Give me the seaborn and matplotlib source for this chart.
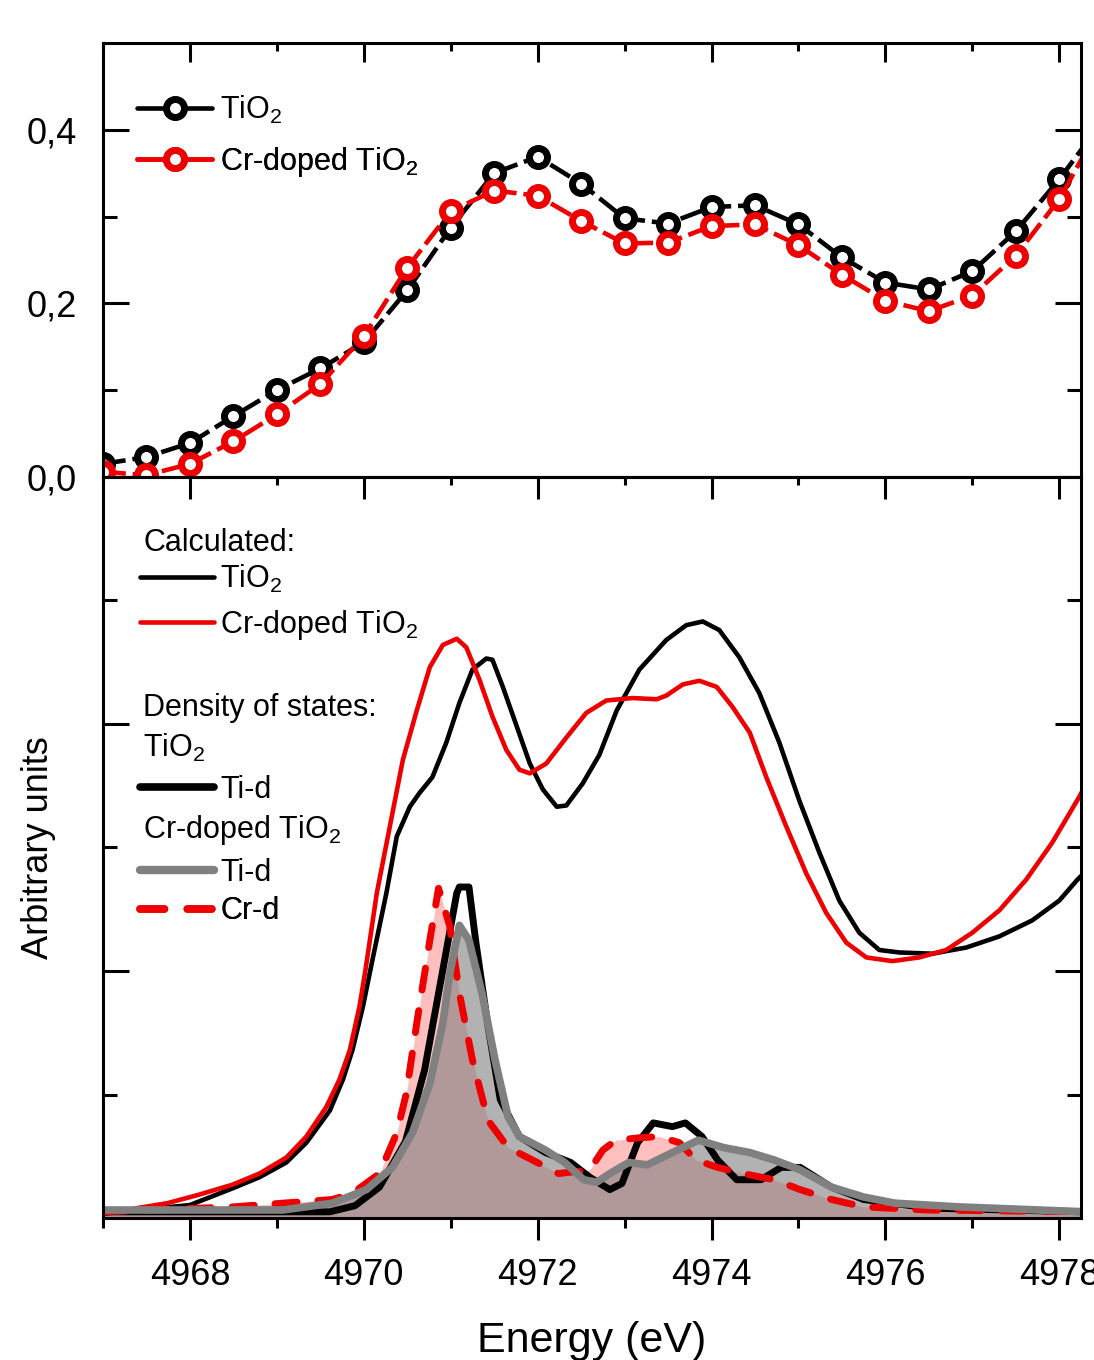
import matplotlib
matplotlib.use('Agg')
import matplotlib.pyplot as plt
import seaborn as sns
from matplotlib.lines import Line2D

# --- top panel: experimental XANES, points every 0.5 eV ---
energy_exp = [4967.0, 4967.5, 4968.0, 4968.5, 4969.0, 4969.5, 4970.0, 4970.5,
              4971.0, 4971.5, 4972.0, 4972.5, 4973.0, 4973.5, 4974.0, 4974.5,
              4975.0, 4975.5, 4976.0, 4976.5, 4977.0, 4977.5, 4978.0, 4978.5]
tio2_exp = [0.015, 0.023, 0.039, 0.070, 0.100, 0.125, 0.155, 0.215,
            0.287, 0.350, 0.369, 0.338, 0.298, 0.292, 0.311, 0.313,
            0.291, 0.253, 0.224, 0.216, 0.237, 0.283, 0.343, 0.41]
cr_exp = [0.006, 0.002, 0.015, 0.041, 0.072, 0.107, 0.162, 0.241,
          0.306, 0.330, 0.324, 0.295, 0.269, 0.270, 0.289, 0.291,
          0.267, 0.233, 0.203, 0.191, 0.209, 0.255, 0.320, 0.41]

# --- bottom panel: calculated spectra ---
calc_tio2_e = [4967.00, 4967.43, 4968.00, 4968.49, 4968.80, 4969.11, 4969.34, 4969.61,
               4969.76, 4969.87, 4969.99, 4970.10, 4970.26, 4970.38, 4970.53, 4970.64,
               4970.79, 4970.95, 4971.10, 4971.25, 4971.41, 4971.48, 4971.60, 4971.76,
               4971.91, 4972.06, 4972.22, 4972.33, 4972.52, 4972.71, 4972.91, 4973.17,
               4973.48, 4973.71, 4973.90, 4974.09, 4974.32, 4974.55, 4974.78, 4975.01,
               4975.24, 4975.47, 4975.70, 4975.93, 4976.16, 4976.54, 4976.93, 4977.31,
               4977.69, 4978.00, 4978.21, 4978.34]
calc_tio2 = [0.04, 0.065, 0.105, 0.24, 0.33, 0.45, 0.61, 0.87,
             1.12, 1.36, 1.71, 2.09, 2.63, 3.09, 3.33, 3.44,
             3.57, 3.85, 4.17, 4.44, 4.53, 4.52, 4.30, 3.98,
             3.68, 3.47, 3.33, 3.34, 3.52, 3.75, 4.11, 4.44,
             4.68, 4.80, 4.83, 4.76, 4.54, 4.25, 3.85, 3.38,
             2.96, 2.57, 2.31, 2.17, 2.15, 2.14, 2.19, 2.28,
             2.41, 2.57, 2.74, 2.83]

calc_cr_e = [4967.00, 4967.39, 4967.74, 4968.11, 4968.49, 4968.80, 4969.11, 4969.34,
             4969.57, 4969.72, 4969.84, 4969.95, 4970.02, 4970.15, 4970.30, 4970.45,
             4970.61, 4970.76, 4970.91, 4971.07, 4971.18, 4971.33, 4971.48, 4971.64,
             4971.79, 4971.91, 4972.10, 4972.33, 4972.56, 4972.79, 4973.09, 4973.37,
             4973.48, 4973.67, 4973.86, 4974.06, 4974.24, 4974.44, 4974.63, 4974.86,
             4975.09, 4975.32, 4975.55, 4975.78, 4976.08, 4976.39, 4976.70, 4977.00,
             4977.31, 4977.62, 4977.92, 4978.23, 4978.40]
calc_cr = [0.03, 0.08, 0.12, 0.19, 0.27, 0.36, 0.49, 0.66,
           0.90, 1.12, 1.36, 1.71, 2.01, 2.63, 3.17, 3.71,
           4.11, 4.46, 4.64, 4.69, 4.62, 4.36, 4.06, 3.79,
           3.63, 3.60, 3.68, 3.89, 4.09, 4.19, 4.21, 4.20,
           4.23, 4.32, 4.35, 4.30, 4.14, 3.93, 3.57, 3.17,
           2.79, 2.47, 2.23, 2.11, 2.08, 2.11, 2.17, 2.31,
           2.49, 2.74, 3.04, 3.41, 3.63]

# --- density of states ---
dos_tio2_e = [4967.00, 4969.61, 4969.90, 4970.18, 4970.48, 4970.70, 4970.92, 4971.07,
              4971.10, 4971.21, 4971.29, 4971.43, 4971.57, 4971.79, 4972.09, 4972.38,
              4972.60, 4972.83, 4972.97, 4973.15, 4973.33, 4973.55, 4973.70, 4973.89,
              4974.07, 4974.29, 4974.57, 4974.80, 4975.02, 4975.38, 4975.75, 4976.51,
              4978.31]
dos_tio2_ti = [0.05, 0.05, 0.10, 0.25, 0.62, 1.20, 2.05, 2.63,
               2.68, 2.68, 2.23, 1.55, 0.96, 0.66, 0.53, 0.45,
               0.33, 0.23, 0.28, 0.61, 0.77, 0.74, 0.77, 0.66,
               0.47, 0.31, 0.31, 0.41, 0.41, 0.25, 0.15, 0.08,
               0.05]

dos_cr_ti_e = [4967.00, 4969.07, 4969.64, 4970.03, 4970.33, 4970.56, 4970.76, 4970.91,
               4970.99, 4971.10, 4971.21, 4971.36, 4971.51, 4971.66, 4971.79, 4972.09,
               4972.31, 4972.53, 4972.68, 4972.83, 4973.05, 4973.26, 4973.55, 4973.85,
               4974.14, 4974.44, 4974.72, 4975.02, 4975.38, 4975.75, 4976.11, 4976.85,
               4978.31]
dos_cr_ti = [0.065, 0.065, 0.12, 0.23, 0.41, 0.69, 1.09, 1.58,
             1.98, 2.37, 2.25, 1.82, 1.28, 0.82, 0.66, 0.55,
             0.45, 0.31, 0.29, 0.36, 0.45, 0.43, 0.53, 0.63,
             0.57, 0.53, 0.47, 0.39, 0.25, 0.17, 0.12, 0.09,
             0.05]

dos_cr_cr_e = [4967.00, 4968.49, 4969.64, 4969.87, 4970.18, 4970.38, 4970.49, 4970.61,
               4970.70, 4970.76, 4970.86, 4970.99, 4971.10, 4971.25, 4971.43, 4971.66,
               4971.94, 4972.24, 4972.60, 4972.75, 4972.90, 4973.18, 4973.40, 4973.63,
               4973.82, 4974.07, 4974.36, 4974.72, 4975.02, 4975.38, 4975.75, 4976.48,
               4978.31]
dos_cr_cr = [0.05, 0.09, 0.15, 0.20, 0.36, 0.69, 1.01, 1.58,
             1.98, 2.25, 2.67, 2.36, 1.82, 1.28, 0.79, 0.57,
             0.47, 0.36, 0.39, 0.55, 0.63, 0.65, 0.66, 0.61,
             0.47, 0.41, 0.36, 0.31, 0.23, 0.15, 0.09, 0.065,
             0.05]

x_ticks = [4968, 4970, 4972, 4974, 4976, 4978]
x_minor = [4967, 4969, 4971, 4973, 4975, 4977]
top_yticks = [0.0, 0.2, 0.4]
top_yticklabels = ['0,0', '0,2', '0,4']

sns.set_theme(style='ticks')
plt.rcParams['font.family'] = ['Liberation Sans', 'DejaVu Sans']
plt.rcParams['mathtext.fontset'] = 'custom'
plt.rcParams['mathtext.rm'] = 'Liberation Sans'
plt.rcParams['mathtext.it'] = 'Liberation Sans:italic'
plt.rcParams['mathtext.default'] = 'regular'
plt.rcParams['axes.linewidth'] = 2.2
plt.rcParams['axes.edgecolor'] = 'black'
for key in ['text.color', 'axes.labelcolor', 'xtick.color', 'ytick.color']:
    plt.rcParams[key] = 'black'

fig = plt.figure(figsize=(10.94, 13.6), dpi=100)
ax1 = fig.add_axes([0.0941, 0.6493, 0.894, 0.3191])
ax2 = fig.add_axes([0.0941, 0.1044, 0.894, 0.5449])

# ---------------- top panel ----------------
mk = dict(marker='o', markersize=13, markeredgewidth=5, markerfacecolor='white')
sns.lineplot(x=energy_exp, y=tio2_exp, ax=ax1, color='black', lw=3.3,
             linestyle=(0, (5, 1.5)), markeredgecolor='black', **mk)
sns.lineplot(x=energy_exp, y=cr_exp, ax=ax1, color='#ee0000', lw=3.3,
             linestyle=(0, (5, 1.5)), markeredgecolor='#ee0000', **mk)

ax1.set_xlim(4967.0, 4978.25)
ax1.set_ylim(0, 0.5)
ax1.set_xticks(x_ticks)
ax1.set_xticks(x_minor, minor=True)
ax1.set_yticks(top_yticks)
ax1.set_yticklabels(top_yticklabels)
ax1.set_yticks([0.1, 0.3], minor=True)
ax1.tick_params(which='both', direction='in', top=True, right=True, bottom=False,
                labelbottom=False, width=2.2, color='black')
ax1.tick_params(axis='x', which='major', length=14)
ax1.tick_params(axis='x', which='minor', length=6)
ax1.tick_params(axis='y', which='major', length=19, labelsize=26, pad=19)
ax1.tick_params(axis='y', which='minor', length=10)
ax1.set_xlabel('')
ax1.set_ylabel('')

top_rows = [
    (Line2D([], [], color='black', lw=3.3, markeredgecolor='black', **mk), 'TiO$_2$', 0.846),
    (Line2D([], [], color='#ee0000', lw=3.3, markeredgecolor='#ee0000', **mk), 'Cr-doped TiO$_2$', 0.726),
]
for h, lab, yy in top_rows:
    leg = ax1.legend(handles=[h], labels=[lab], loc='center left', bbox_to_anchor=(0.035, yy),
                     frameon=False, borderpad=0, borderaxespad=0, handlelength=2.45,
                     handletextpad=0.25, fontsize=22, numpoints=1)
    ax1.add_artist(leg)

# ---------------- bottom panel ----------------
sns.lineplot(x=calc_tio2_e, y=calc_tio2, ax=ax2, color='black', lw=3.3)
sns.lineplot(x=calc_cr_e, y=calc_cr, ax=ax2, color='#ee0000', lw=3.3)

ax2.fill_between(dos_cr_cr_e, 0, dos_cr_cr, color='#ff0000', alpha=0.25, lw=0)
sns.lineplot(x=dos_tio2_e, y=dos_tio2_ti, ax=ax2, color='black', lw=5)
sns.lineplot(x=dos_cr_cr_e, y=dos_cr_cr, ax=ax2, color='#ee0000', lw=5,
             linestyle=(0, (3.2, 3)), dash_capstyle='round')
ax2.fill_between(dos_cr_ti_e, 0, dos_cr_ti, color='#808080', alpha=0.6, lw=0)
sns.lineplot(x=dos_cr_ti_e, y=dos_cr_ti, ax=ax2, color='#808080', lw=5.5)

ax2.set_xlim(4967.0, 4978.25)
ax2.set_ylim(0, 6)
ax2.set_xticks(x_ticks)
ax2.set_xticks(x_minor, minor=True)
ax2.set_yticks([2, 4])
ax2.set_yticklabels([])
ax2.set_yticks([1, 3, 5], minor=True)
ax2.tick_params(axis='x', which='both', direction='out', width=2.2, color='black',
                labelsize=26, pad=13)
ax2.tick_params(axis='x', which='major', length=16)
ax2.tick_params(axis='x', which='minor', length=7)
ax2.tick_params(axis='y', which='both', direction='in', left=True, right=True,
                width=2.2, color='black')
ax2.tick_params(axis='y', which='major', length=19)
ax2.tick_params(axis='y', which='minor', length=10)

sec = ax2.secondary_xaxis('top')
sec.set_xticks(x_ticks)
sec.set_xticks(x_minor, minor=True)
sec.tick_params(which='both', direction='in', labeltop=False, width=2.2, color='black')
sec.tick_params(which='major', length=16)
sec.tick_params(which='minor', length=6)

ax2.set_xlabel('Energy (eV)', fontsize=31, labelpad=20)
ax2.set_ylabel('Arbitrary units', fontsize=26, labelpad=30)

headers = [('Calculated:', 0.911), ('Density of states:', 0.688),
           ('TiO$_2$', 0.634), ('Cr-doped TiO$_2$', 0.524)]
for txt, yy in headers:
    ax2.text(0.041, yy, txt, transform=ax2.transAxes, va='center', ha='left', fontsize=22)

bottom_rows = [
    (Line2D([], [], color='black', lw=3.3), 'TiO$_2$', 0.862),
    (Line2D([], [], color='#ee0000', lw=3.3), 'Cr-doped TiO$_2$', 0.800),
    (Line2D([], [], color='black', lw=5.5, solid_capstyle='round'), 'Ti-d', 0.578),
    (Line2D([], [], color='#808080', lw=6, solid_capstyle='round'), 'Ti-d', 0.466),
    (Line2D([], [], color='#ee0000', lw=5.5, linestyle=(0, (3.2, 3)),
            dash_capstyle='round'), 'Cr-d', 0.414),
]
for h, lab, yy in bottom_rows:
    leg = ax2.legend(handles=[h], labels=[lab], loc='center left', bbox_to_anchor=(0.038, yy),
                     frameon=False, borderpad=0, borderaxespad=0, handlelength=2.42,
                     handletextpad=0.2, fontsize=22)
    ax2.add_artist(leg)

fig.savefig('out.png', dpi=100)
